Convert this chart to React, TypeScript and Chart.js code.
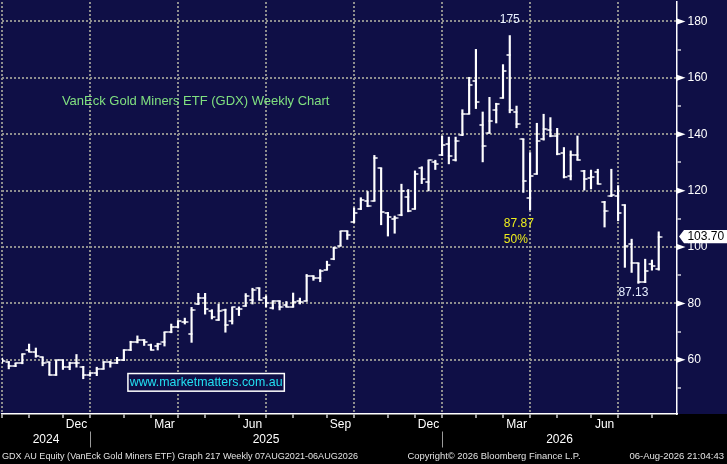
import React, { useEffect, useRef } from 'react';
import { Chart, registerables } from 'chart.js';

Chart.register(...registerables);

// ---------- data ----------
const weekDates: string[] = [
  '2024-09-27', '2024-10-04', '2024-10-11', '2024-10-18', '2024-10-25', '2024-11-01', '2024-11-08', '2024-11-15', '2024-11-22', '2024-11-29', '2024-12-06', '2024-12-13', '2024-12-20', '2024-12-27',
  '2025-01-03', '2025-01-10', '2025-01-17', '2025-01-24', '2025-01-31', '2025-02-07', '2025-02-14', '2025-02-21', '2025-02-28', '2025-03-07', '2025-03-14', '2025-03-21', '2025-03-28',
  '2025-04-04', '2025-04-11', '2025-04-18', '2025-04-25', '2025-05-02', '2025-05-09', '2025-05-16', '2025-05-23', '2025-05-30', '2025-06-06', '2025-06-13', '2025-06-20', '2025-06-27',
  '2025-07-04', '2025-07-11', '2025-07-18', '2025-07-25', '2025-08-01', '2025-08-08', '2025-08-15', '2025-08-22', '2025-08-29', '2025-09-05', '2025-09-12', '2025-09-19', '2025-09-26',
  '2025-10-03', '2025-10-10', '2025-10-17', '2025-10-24', '2025-10-31', '2025-11-07', '2025-11-14', '2025-11-21', '2025-11-28', '2025-12-05', '2025-12-12', '2025-12-19', '2025-12-26',
  '2026-01-02', '2026-01-09', '2026-01-16', '2026-01-23', '2026-01-30', '2026-02-06', '2026-02-13', '2026-02-20', '2026-02-27', '2026-03-06', '2026-03-13', '2026-03-20', '2026-03-27',
  '2026-04-03', '2026-04-10', '2026-04-17', '2026-04-24', '2026-05-01', '2026-05-08', '2026-05-15', '2026-05-22', '2026-05-29', '2026-06-05', '2026-06-12', '2026-06-19', '2026-06-26',
  '2026-07-03', '2026-07-10', '2026-07-17', '2026-07-24', '2026-07-31', '2026-08-07',
];

const openValues: number[] = [
  60.2, 59.2, 57.8, 58.8, 63.5, 62.9, 60.9, 59.1, 54.6, 59.8,
  57.6, 58.8, 57.6, 54.5, 55.4, 56.8, 59.4, 58.8, 59.8, 63.4,
  66.2, 66.9, 65.4, 64.8, 66.2, 69.8, 71.5, 73.6, 69.2, 79.8,
  82.1, 77.4, 74.1, 77.6, 73.9, 78.2, 79.1, 81.2, 85.4, 81.9,
  78.4, 80.7, 79.5, 78.8, 80.8, 80.9, 89.7, 89.2, 92.0, 95.6,
  100.5, 105.6, 108.8, 113.4, 116.4, 116.4, 127.9, 112.2, 109.8, 111.2,
  117.6, 113.5, 128.0, 123.2, 130.2, 132.5, 136.6, 130.7, 139.6, 147.3,
  158.8, 143.4, 140.5, 148.7, 152.9, 168.0, 147.9, 138.2, 117.4, 125.9,
  138.2, 141.4, 139.4, 133.5, 125.3, 132.6, 127.1, 124.5, 126.5, 116.1,
  118.0, 118.2, 114.9, 101.1, 94.2, 87.7, 94.0, 92.2,
];

const highValues: number[] = [
  60.6, 59.4, 58.8, 62.1, 65.6, 64.2, 61.0, 59.2, 59.8, 59.9,
  59.2, 61.9, 57.7, 55.5, 57.4, 59.4, 59.5, 60.9, 63.6, 66.6,
  68.5, 67.2, 65.6, 65.9, 69.8, 72.7, 73.9, 74.8, 78.6, 83.6,
  83.6, 77.8, 79.8, 78.0, 78.6, 78.8, 83.5, 85.4, 85.5, 82.7,
  80.9, 80.9, 80.7, 83.7, 81.9, 90.3, 89.8, 92.0, 95.0, 100.0,
  105.6, 105.7, 113.9, 117.5, 119.7, 132.5, 128.0, 112.3, 111.0, 122.3,
  120.4, 127.0, 128.5, 130.7, 130.8, 139.3, 139.0, 139.0, 148.7, 160.2,
  170.1, 147.9, 153.1, 151.0, 164.7, 175.0, 150.0, 138.3, 133.5, 143.9,
  147.1, 145.9, 142.1, 135.3, 134.1, 139.4, 127.2, 127.3, 127.6, 116.2,
  127.6, 121.8, 115.0, 102.8, 94.3, 95.7, 95.4, 105.4,
];

const lowValues: number[] = [
  58.8, 56.8, 57.6, 58.6, 62.9, 60.9, 57.9, 54.6, 54.5, 56.6,
  56.5, 57.4, 53.3, 54.2, 54.4, 56.7, 57.4, 58.7, 59.7, 63.3,
  66.0, 65.1, 63.5, 63.5, 64.9, 69.6, 71.3, 72.7, 66.2, 79.6,
  76.2, 74.5, 74.0, 69.8, 72.7, 75.7, 79.0, 79.8, 81.2, 78.8,
  78.0, 77.7, 78.8, 78.7, 79.8, 80.8, 88.2, 87.7, 91.9, 95.5,
  100.4, 102.7, 108.7, 113.3, 114.3, 116.3, 107.9, 103.9, 104.9, 111.1,
  112.5, 113.4, 122.5, 119.9, 127.5, 132.4, 129.5, 130.5, 139.5, 147.2,
  149.1, 130.2, 140.4, 144.0, 152.8, 147.6, 142.3, 119.4, 113.2, 125.8,
  137.9, 139.1, 132.7, 124.5, 123.8, 130.8, 120.2, 120.6, 122.4, 107.1,
  117.9, 109.3, 92.8, 91.0, 87.13, 87.4, 91.8, 91.8,
];

const closeValues: number[] = [
  59.5, 57.8, 58.8, 62.1, 62.9, 61.2, 58.8, 54.6, 59.8, 57.6,
  58.8, 58.8, 54.5, 55.4, 56.8, 59.4, 58.8, 60.0, 63.6, 66.2,
  67.1, 66.5, 63.5, 65.6, 69.8, 71.5, 73.9, 73.6, 77.6, 81.9,
  78.0, 75.3, 77.4, 72.4, 78.6, 78.2, 82.5, 84.7, 81.2, 80.0,
  80.7, 78.6, 78.8, 80.6, 80.5, 89.9, 89.2, 91.5, 93.6, 99.6,
  105.6, 104.4, 112.1, 116.7, 114.5, 131.6, 112.3, 110.5, 110.2, 119.9,
  112.7, 125.9, 124.0, 130.7, 129.5, 136.1, 132.2, 137.5, 147.3, 157.6,
  151.5, 135.7, 144.6, 150.8, 162.3, 148.7, 143.8, 123.3, 125.3, 137.6,
  141.8, 139.4, 132.9, 124.9, 132.6, 130.9, 124.1, 124.9, 122.5, 112.9,
  118.3, 112.1, 100.5, 94.2, 87.7, 91.6, 93.4, 103.70,
];

const yTickValues: number[] = [50, 60, 70, 80, 90, 100, 110, 120, 130, 140, 150, 160, 170, 180];
const yLabelValues: number[] = [60, 80, 100, 120, 140, 160, 180];
const monthNames: string[] = ['Jan', 'Feb', 'Mar', 'Apr', 'May', 'Jun', 'Jul', 'Aug', 'Sep', 'Oct', 'Nov', 'Dec'];
const quarterMonths: number[] = [2, 5, 8, 11];
const yearLabels: string[] = ['2024', '2025', '2026'];

const titleText = 'VanEck Gold Miners ETF (GDX) Weekly Chart';
const urlText = 'www.marketmatters.com.au';
const peakLabel = '175';
const fibLabel = '87.87';
const fibPctLabel = '50%';
const troughLabel = '87.13';
const footerLeft = 'GDX AU Equity (VanEck Gold Miners ETF) Graph 217 Weekly 07AUG2021-06AUG2026';
const footerCenter = 'Copyright\u00A9 2026 Bloomberg Finance L.P.';
const footerRight = '06-Aug-2026 21:04:43';

// ---------- derived ticks ----------
const monthOf = (s: string) => Number(s.slice(5, 7)) - 1;
const monthEnds: number[] = weekDates
  .map((_, i) => i)
  .filter((i) => i < weekDates.length - 1 && monthOf(weekDates[i + 1]) !== monthOf(weekDates[i]));
const quarterEnds: number[] = monthEnds.filter((i) => quarterMonths.includes(monthOf(weekDates[i])));
const yearEnds: number[] = monthEnds.filter((i) => monthOf(weekDates[i]) === 11);

// ---------- layout / style ----------
const X_MIN = 0;
const X_MAX = 99.7;
const Y_MIN = 40.8;
const Y_MAX = 186.9;
const NAVY = '#0f0f46';
const GRID = '#8e8e8e';
const FONT = '"Liberation Sans", Arial, sans-serif';

const monthLabelTicks = quarterEnds
  .map((i) => {
    const k = monthEnds.indexOf(i);
    if (k <= 0) return null;
    return { value: (monthEnds[k - 1] + i) / 2, label: monthNames[monthOf(weekDates[i])] };
  })
  .filter((t) => t !== null) as { value: number; label: string }[];

const yearBounds = [X_MIN, ...yearEnds, X_MAX];
const yearLabelTicks = yearLabels.map((label, k) => ({ value: (yearBounds[k] + yearBounds[k + 1]) / 2, label }));

function makeTick(side: 'left' | 'right'): HTMLCanvasElement {
  const c = document.createElement('canvas');
  c.width = 8;
  c.height = 2;
  const g = c.getContext('2d')!;
  g.fillStyle = '#ffffff';
  if (side === 'left') g.fillRect(0.6, 0.25, 4.15, 1.5);
  else g.fillRect(3.25, 0.25, 4.15, 1.5);
  return c;
}

export default function App() {
  const ref = useRef<HTMLCanvasElement>(null);

  useEffect(() => {
    document.body.style.margin = '0';
    document.body.style.background = '#000';
    const canvas = ref.current!;
    const openImg = makeTick('left');
    const closeImg = makeTick('right');

    const overlay = {
      id: 'overlay',
      beforeDraw(chart: any) {
        const { ctx, chartArea, width, height } = chart;
        ctx.save();
        ctx.fillStyle = '#000';
        ctx.fillRect(0, 0, width, height);
        ctx.fillStyle = NAVY;
        ctx.fillRect(0, 0, width, chartArea.bottom);
        ctx.restore();
      },
      afterDraw(chart: any) {
        const { ctx, chartArea, width, height } = chart;
        const xs = chart.scales.x;
        const ys = chart.scales.y;
        const xy = chart.scales.xy;
        const px = (v: number) => xs.getPixelForValue(v);
        const py = (v: number) => ys.getPixelForValue(v);
        ctx.save();

        // title
        ctx.font = `13px ${FONT}`;
        ctx.fillStyle = '#80e080';
        ctx.textAlign = 'left';
        ctx.textBaseline = 'middle';
        ctx.fillText(titleText, px(8.85), py(151.6));

        // url box
        const bx0 = px(18.6), bx1 = px(41.7), by0 = py(55.15), by1 = py(48.9);
        ctx.fillStyle = NAVY;
        ctx.fillRect(bx0, by0, bx1 - bx0, by1 - by0);
        ctx.strokeStyle = '#ffffff';
        ctx.lineWidth = 1.5;
        ctx.strokeRect(bx0, by0, bx1 - bx0, by1 - by0);
        ctx.font = `12.4px ${FONT}`;
        ctx.fillStyle = '#22e0f2';
        ctx.textAlign = 'center';
        ctx.fillText(urlText, (bx0 + bx1) / 2, (by0 + by1) / 2 + 0.5);

        // peak / trough / fib labels
        ctx.font = `12px ${FONT}`;
        ctx.fillStyle = '#e6eeff';
        ctx.textAlign = 'center';
        ctx.fillText(peakLabel, px(75.0), py(180.6));
        ctx.textAlign = 'left';
        ctx.fillText(troughLabel, px(91.05), py(83.85));
        ctx.fillStyle = '#eded1c';
        ctx.fillText(fibLabel, px(74.12), py(108.2));
        ctx.fillText(fibPctLabel, px(74.12), py(102.5));

        // y-axis major tick triangles
        ctx.fillStyle = '#ffffff';
        const ax = ys.left;
        yLabelValues.forEach((v) => {
          const y = py(v);
          ctx.beginPath();
          ctx.moveTo(ax, y - 3);
          ctx.lineTo(ax + 8.5, y);
          ctx.lineTo(ax, y + 3);
          ctx.closePath();
          ctx.fill();
        });

        // last price tag
        const last = closeValues[closeValues.length - 1];
        const ty = py(last);
        const tx = ax + 2;
        ctx.fillStyle = '#ffffff';
        ctx.beginPath();
        ctx.moveTo(tx, ty);
        ctx.lineTo(tx + 5, ty - 6.7);
        ctx.lineTo(width, ty - 6.7);
        ctx.lineTo(width, ty + 6.7);
        ctx.lineTo(tx + 5, ty + 6.7);
        ctx.closePath();
        ctx.fill();
        ctx.fillStyle = '#000000';
        ctx.font = `12px ${FONT}`;
        ctx.textAlign = 'left';
        ctx.fillText(last.toFixed(2), ax + 10.4, ty + 0.5);

        // year separators
        ctx.strokeStyle = '#9a9a9a';
        ctx.lineWidth = 1;
        yearEnds.forEach((i) => {
          const x = Math.round(px(i)) + 0.5;
          ctx.beginPath();
          ctx.moveTo(x, xy.top + 0.5);
          ctx.lineTo(x, xy.bottom - 0.5);
          ctx.stroke();
        });

        // footer
        const fy = chartArea.bottom + (height - chartArea.bottom) - 7.3;
        ctx.font = `9.5px ${FONT}`;
        ctx.fillStyle = '#e2e2e2';
        ctx.textBaseline = 'middle';
        ctx.textAlign = 'left';
        ctx.fillText(footerLeft, 2, fy, 356);
        ctx.textAlign = 'center';
        ctx.fillText(footerCenter, 494, fy, 173);
        ctx.textAlign = 'right';
        ctx.fillText(footerRight, width - 3, fy, 96);
        ctx.restore();
      },
    };

    const chart = new Chart(canvas, {
      type: 'bar',
      data: {
        datasets: [
          {
            type: 'bar',
            data: lowValues.map((l, i) => ({ x: i, y: [l, highValues[i]] })) as any,
            backgroundColor: '#ffffff',
            borderWidth: 0,
            barThickness: 1.5,
            xAxisID: 'x',
            yAxisID: 'y',
          },
          {
            type: 'line',
            data: openValues.map((v, i) => ({ x: i, y: v })),
            showLine: false,
            pointStyle: openImg as any,
            pointRadius: 1,
            pointHoverRadius: 1,
            xAxisID: 'x',
            yAxisID: 'y',
          },
          {
            type: 'line',
            data: closeValues.map((v, i) => ({ x: i, y: v })),
            showLine: false,
            pointStyle: closeImg as any,
            pointRadius: 1,
            pointHoverRadius: 1,
            xAxisID: 'x',
            yAxisID: 'y',
          },
        ] as any,
      },
      options: {
        responsive: false,
        animation: false,
        events: [],
        layout: { padding: { left: 0, right: 0, top: 0, bottom: 16 } },
        plugins: {
          legend: { display: false },
          tooltip: { enabled: false },
          title: { display: false },
        },
        scales: {
          x: {
            type: 'linear',
            position: 'bottom',
            weight: 0,
            min: X_MIN,
            max: X_MAX,
            offset: false,
            bounds: 'data',
            afterBuildTicks: (s: any) => {
              s.ticks = monthEnds.map((v) => ({ value: v }));
            },
            afterFit: (s: any) => {
              s.height = 3;
              s.paddingLeft = 0;
              s.paddingRight = 0;
            },
            ticks: { display: false },
            grid: {
              color: (c: any) => (c.tick && quarterEnds.includes(c.tick.value) ? GRID : 'rgba(0,0,0,0)'),
              lineWidth: 2,
              drawTicks: true,
              tickLength: 4,
              tickColor: '#ffffff',
              tickWidth: 1.2,
              offset: false,
            },
            border: { color: '#ffffff', width: 1.5, dash: [2, 2] },
          },
          xm: {
            type: 'linear',
            position: 'bottom',
            weight: 1,
            min: X_MIN,
            max: X_MAX,
            offset: false,
            bounds: 'data',
            afterBuildTicks: (s: any) => {
              s.ticks = monthLabelTicks.map((t) => ({ value: t.value }));
            },
            afterFit: (s: any) => {
              s.height = 14;
              s.paddingLeft = 0;
              s.paddingRight = 0;
            },
            ticks: {
              color: '#ffffff',
              font: { family: FONT, size: 12 },
              padding: 0,
              autoSkip: false,
              maxRotation: 0,
              callback: (v: any) => {
                const t = monthLabelTicks.find((m) => Math.abs(m.value - Number(v)) < 1e-6);
                return t ? t.label : '';
              },
            },
            grid: { display: false, drawTicks: false },
            border: { display: false },
          },
          xy: {
            type: 'linear',
            position: 'bottom',
            weight: 2,
            min: X_MIN,
            max: X_MAX,
            offset: false,
            bounds: 'data',
            afterBuildTicks: (s: any) => {
              s.ticks = yearLabelTicks.map((t) => ({ value: t.value }));
            },
            afterFit: (s: any) => {
              s.height = 17;
              s.paddingLeft = 0;
              s.paddingRight = 0;
            },
            ticks: {
              color: '#ffffff',
              font: { family: FONT, size: 12 },
              padding: 1,
              autoSkip: false,
              maxRotation: 0,
              callback: (v: any) => {
                const t = yearLabelTicks.find((m) => Math.abs(m.value - Number(v)) < 1e-6);
                return t ? t.label : '';
              },
            },
            grid: { display: false, drawTicks: false },
            border: { display: false },
          },
          y: {
            type: 'linear',
            position: 'right',
            min: Y_MIN,
            max: Y_MAX,
            bounds: 'data',
            afterBuildTicks: (s: any) => {
              s.ticks = yTickValues.map((v) => ({ value: v }));
            },
            afterFit: (s: any) => {
              s.width = 50;
              s.paddingTop = 0;
              s.paddingBottom = 0;
            },
            ticks: {
              color: '#ffffff',
              font: { family: FONT, size: 12 },
              padding: 6.5,
              autoSkip: false,
              callback: (v: any) => (yLabelValues.includes(Number(v)) ? String(v) : ''),
            },
            grid: {
              color: (c: any) => (c.tick && yLabelValues.includes(c.tick.value) ? GRID : 'rgba(0,0,0,0)'),
              lineWidth: 2,
              drawTicks: true,
              tickLength: 4,
              tickColor: '#ffffff',
              tickWidth: 1.2,
            },
            border: { color: '#ffffff', width: 1.5, dash: [2, 2] },
          },
        },
      } as any,
      plugins: [overlay],
    });

    return () => chart.destroy();
  }, []);

  return (
    <canvas
      ref={ref}
      width={727}
      height={464}
      style={{ display: 'block', width: '727px', height: '464px' }}
    />
  );
}
